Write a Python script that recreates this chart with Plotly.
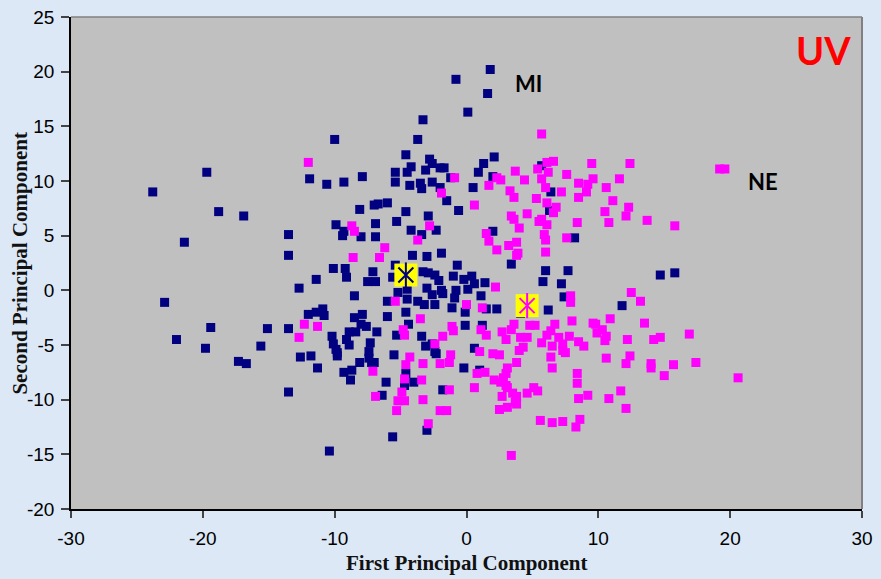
import plotly.graph_objects as go

# First / second principal component scores for the two groups
mi_x = [-23.8, -19.7, -18.8, -16.9, -21.4, -13.5, -13.5, -12.7, -22.9, -19.4, -15.1, -13.5, -22.0, -19.8, -15.6, -17.3, -16.7, -13.5, -12.6,
        1.8, -0.8, 1.6, 0.1, -3.3, -10.0, -3.7, -4.6, -2.8, 2.1, 1.3, -4.2, -2.6, -3.1, -2.0, -1.7, -5.4, -4.5, 0.9, -11.9, -10.6, -9.3, -7.9, -5.4, -4.3, -3.5, -3.4, -2.6, -2.0, 0.5, 2.0, -1.2, 5.7, 6.4,
        -1.5, -0.6, -8.1, -7.0, -6.7, -6.0, -4.6, -2.9, -5.3, -6.9, -9.9, -9.3, -9.4, -8.0, -6.9, -4.2, -3.4, -2.3, 2.0, 6.3, 8.2,
        -4.1, -3.0, -1.9, 3.4, 6.0, 7.7, 5.8, 7.2, -10.1, -9.2, -9.1, -11.4, -7.1, -7.5, -6.9, -8.5, -5.4, -5.6, -3.3, -2.9, -2.4, -2.1, -1.0, -0.7, -0.2, 0.4, 0.6, 1.4, 1.1, -3.0, -2.6, -1.9, -1.8, -0.8, -0.9, 0.1, -5.2, -4.5, -4.5, -3.7, -3.2, -2.4, -1.1, -0.1, -6.0, 1.5, 2.3, 4.1, 6.2, 7.4,
        -12.0, -11.4, -10.9, -10.8, -7.9, -8.5, -8.0, -7.6, -6.0, -4.6, -4.4, -6.8, -8.9, -8.4, -10.2, -9.1, -8.9, -10.1, -9.9, -7.3, -7.4, -7.4, -7.2, -9.8, -11.8, -8.1, -9.3, -8.7, -8.8, -11.3, -5.5, -3.4, -3.1, -2.6, -2.4, -2.3, -5.3, -0.1, 1.2, 0.6, -0.2, 1.0, -4.6, -4.7, -4.0, -6.1, -6.4, -1.8, -9.8, -7.0, 14.7, 15.8, 11.8, -3.0, -5.6, -10.4]
mi_y = [9.0, 10.8, 7.2, 6.8, 4.4, 5.1, 3.2, 0.2, -1.1, -3.4, -3.5, -3.5, -4.5, -5.3, -5.1, -6.5, -6.7, -9.3, -6.1,
        20.2, 19.3, 18.0, 16.3, 15.6, 13.8, 13.8, 12.4, 12.0, 12.2, 11.6, 11.3, 11.6, 11.0, 11.2, 11.2, 10.8, 10.8, 10.8, 10.2, 9.7, 9.9, 10.4, 9.9, 9.6, 9.8, 9.3, 9.9, 9.4, 9.4, 10.4, 10.3, 11.4, 9.0,
        8.2, 7.3, 7.4, 7.8, 7.9, 8.0, 7.2, 6.8, 6.3, 6.1, 6.0, 5.4, 5.0, 4.9, 4.9, 5.5, 5.1, 5.5, 5.4, 7.3, 4.8,
        3.2, 3.1, 3.4, 2.4, 1.8, 1.8, 0.8, 0.6, 2.0, 2.0, 1.2, 1.0, 1.7, 0.8, 0.8, -0.5, 2.3, 1.2, 1.7, 1.6, 1.4, 0.9, 1.3, 2.3, 1.0, 1.3, 0.6, 0.7, -0.5, 0.2, -0.4, 0.0, -0.3, 0.0, -0.7, 0.1, -0.2, 0.1, -0.8, -1.0, -1.3, -1.3, -1.6, -2.0, -1.0, -1.7, -1.7, -2.1, -1.8, -0.6,
        -2.2, -2.0, -1.7, -2.3, -2.2, -2.5, -3.1, -3.3, -2.4, -2.0, -3.1, -3.8, -3.8, -3.8, -4.2, -4.5, -5.0, -4.9, -5.4, -4.8, -5.6, -6.2, -6.6, -6.0, -6.0, -6.6, -7.5, -7.3, -8.2, -7.1, -5.9, -4.2, -5.1, -4.9, -5.6, -5.8, -4.1, -3.2, -3.2, -5.3, -7.1, -7.3, -7.6, -8.7, -8.4, -8.4, -9.6, -9.1, -5.7, -6.6, 1.4, 1.6, -1.4, -12.8, -13.4, -14.7]

ne_x = [5.7, -12.0, -0.9, -1.9, 1.7, 2.3, 2.6, 3.7, 4.4, 3.3, 3.6, 5.4, 6.1, 6.6, 6.2, 5.7, 7.6, 6.0, 7.2, 9.5, 8.5, 9.6, 9.2, 9.1, 8.5, 5.3, 12.4, 11.6, 10.6, 11.1, 19.2, 19.6,
        0.6, 6.1, 6.8, 6.6, 3.4, 3.6, 4.6, 5.5, 5.7, 6.1, 8.4, 4.0, 5.9, 6.0, 7.6, 1.5, 1.7, 3.2, 3.8, 3.9, 3.8, 2.3, 6.0, -8.7, -8.5, -2.8, -3.7, -6.2, -6.6, -8.6, 10.5, 10.8, 12.3, 12.1, 13.7, 15.8,
        2.2, 0.0, 1.2, -5.4, -3.5, 7.9, 7.9, -12.3, -11.3, -12.7, -4.8, -4.7, -1.8, -1.1, -1.0, 1.1, 1.5, 2.7, 3.6, 3.4, 3.0, 4.1, 4.6, 4.3, 4.0, 4.8, 5.2, 5.7, 6.1, 6.4, 6.7, 7.0, 7.3, 7.8, 6.5, 7.5, 6.4, 8.0, 8.5, 8.9, 9.6, 9.8, 9.9, 6.5, 8.4, 8.4, 9.2, 8.5,
        -2.4, 1.0, 2.0, 2.5, 3.8, 3.1, 3.0, 2.1, 2.6, 3.0, 0.6, 3.5, 3.8, 4.6, 5.1, 5.4, 0.8, 1.4, -1.2, -1.3, -2.0, -3.3, -4.3, -4.6, -7.1, -4.7, -3.4, -1.3, -4.9, -6.9, -3.3,
        12.5, 13.2, 10.9, 13.5, 10.3, 10.6, 10.5, 12.2, 14.2, 14.7, 16.9, 10.6, 12.4, 12.1, 14.0, 14.0, 15.7, 17.4, 15.0, 20.6, 11.7, 10.8, 12.1, 7.3, 2.8, 3.1, 2.7, 3.7, 3.8, 2.5, 3.1,
        -5.2, -4.7, -5.3, -2.0, -1.5, -2.9, 5.6, 6.5, 7.3, 8.6, 8.3, 3.4]
ne_y = [14.3, 11.7, 10.3, 8.9, 9.6, 10.3, 10.1, 10.9, 10.1, 9.1, 8.5, 11.1, 11.7, 11.8, 10.8, 10.2, 10.6, 9.4, 9.0, 11.6, 9.8, 10.2, 9.7, 9.0, 8.5, 8.4, 11.6, 10.2, 9.4, 8.2, 11.1, 11.1,
        7.8, 8.0, 7.6, 7.1, 6.8, 6.5, 7.0, 6.3, 6.5, 6.0, 6.2, 5.7, 5.1, 4.6, 4.8, 5.2, 4.5, 4.1, 4.4, 3.4, 3.2, 3.7, 3.5, 5.9, 5.4, 5.9, 4.6, 3.9, 3.0, 3.0, 7.2, 6.2, 7.6, 6.8, 6.4, 5.9,
        0.3, -1.3, -1.6, -1.0, -2.6, -0.5, -1.1, -3.1, -3.3, -4.3, -3.6, -4.1, -4.2, -3.3, -3.7, -3.6, -4.1, -3.8, -3.1, -3.6, -4.5, -4.3, -4.3, -5.2, -5.5, -3.2, -3.2, -4.8, -4.1, -3.7, -3.1, -4.3, -4.9, -4.2, -5.1, -5.7, -6.1, -2.8, -4.7, -5.1, -3.0, -3.1, -3.9, -7.1, -7.6, -8.5, -9.6, -9.9,
        -4.9, -5.6, -5.8, -5.9, -6.6, -7.1, -7.6, -8.2, -8.4, -8.7, -8.9, -9.4, -9.7, -9.4, -8.9, -9.2, -7.6, -7.5, -5.9, -6.6, -6.7, -6.7, -6.1, -6.8, -7.4, -8.1, -8.2, -9.1, -9.3, -9.7, -10.0,
        -0.2, -1.0, -2.6, -3.0, -3.6, -4.2, -4.6, -4.5, -4.5, -4.3, -4.0, -6.2, -6.0, -6.7, -6.7, -7.1, -6.8, -6.6, -7.8, -8.0, -9.2, -9.9, -10.8, -5.5, -8.0, -8.9, -9.7, -10.2, -10.4, -10.9, -10.7,
        -10.1, -10.1, -11.0, -11.0, -11.0, -12.2, -11.9, -12.1, -12.0, -11.8, -12.5, -15.1]

# Group centroids
centroid_x = [-4.6, 4.6]
centroid_y = [1.4, -1.4]
centroid_colors = ["#000080", "#FF00FF"]

x_ticks = [-30, -20, -10, 0, 10, 20, 30]
y_ticks = [-20, -15, -10, -5, 0, 5, 10, 15, 20, 25]

NAVY = "#000080"
MAGENTA = "#FF00FF"

fig = go.Figure()

fig.add_trace(go.Scatter(
    x=mi_x, y=mi_y, mode="markers", name="MI",
    marker=dict(symbol="square", size=9, color=NAVY, line=dict(width=0)),
))
fig.add_trace(go.Scatter(
    x=ne_x, y=ne_y, mode="markers", name="NE",
    marker=dict(symbol="square", size=9, color=MAGENTA, line=dict(width=0)),
))

# centroid markers: yellow square with a star drawn on top
fig.add_trace(go.Scatter(
    x=centroid_x, y=centroid_y, mode="markers",
    marker=dict(symbol="square", size=23, color="#FFFF00", line=dict(width=0)),
))
fig.add_trace(go.Scatter(
    x=centroid_x, y=centroid_y, mode="markers",
    marker=dict(symbol="x-thin-open", size=15, color=centroid_colors,
                line=dict(width=2, color=centroid_colors)),
))
fig.add_trace(go.Scatter(
    x=centroid_x, y=centroid_y, mode="markers",
    marker=dict(symbol="line-ns-open", size=18, color=centroid_colors,
                line=dict(width=2, color=centroid_colors)),
))

tick_font = dict(family="Liberation Sans, Arial, sans-serif", size=19, color="#000000")
title_font = dict(family="Liberation Serif, Times New Roman, serif", size=21, color="#111111")

fig.update_layout(
    width=881, height=579,
    margin=dict(l=71, r=19, t=17, b=70),
    paper_bgcolor="#DCE8F6",
    plot_bgcolor="#C0C0C0",
    showlegend=False,
    xaxis=dict(
        range=[-30, 30], tickvals=x_ticks, ticktext=[str(v) for v in x_ticks],
        showgrid=False, zeroline=False, showline=True, linecolor="#000000", linewidth=1.5,
        ticks="outside", ticklen=7, tickwidth=1.5, tickcolor="#444444",
        tickfont=tick_font, ticklabelstandoff=4, automargin=False,
    ),
    yaxis=dict(
        range=[-20, 25], tickvals=y_ticks, ticktext=[str(v) for v in y_ticks],
        showgrid=False, zeroline=False, showline=True, linecolor="#000000", linewidth=1.5,
        ticks="outside", ticklen=8, tickwidth=1.5, tickcolor="#444444",
        tickfont=tick_font, ticklabelstandoff=3, automargin=False,
    ),
    shapes=[
        dict(type="line", xref="paper", yref="paper", x0=0, x1=1, y0=1, y1=1,
             line=dict(color="#808080", width=1.5)),
        dict(type="line", xref="paper", yref="paper", x0=1, x1=1, y0=0, y1=1,
             line=dict(color="#808080", width=2)),
    ],
    annotations=[
        dict(text="<b>First Principal Component</b>", xref="paper", yref="paper",
             x=0.5, y=-0.11, xanchor="center", yanchor="middle", showarrow=False, font=title_font),
        dict(text="<b>Second Principal Component</b>", xref="paper", yref="paper",
             x=-0.065, y=0.5, xanchor="center", yanchor="middle", textangle=-90,
             showarrow=False, font=title_font),
        dict(text="<b>MI</b>", x=4.7, y=18.9, xref="x", yref="y", showarrow=False,
             font=dict(family="Lato, sans-serif", size=22, color="#000000")),
        dict(text="<b>NE</b>", x=22.5, y=10.0, xref="x", yref="y", showarrow=False,
             font=dict(family="Lato, sans-serif", size=22, color="#000000")),
        dict(text="<b>UV</b>", x=27.1, y=22.0, xref="x", yref="y", showarrow=False,
             font=dict(family="Lato, sans-serif", size=38, color="#FF0000")),
    ],
)

fig.write_html("out.html")
